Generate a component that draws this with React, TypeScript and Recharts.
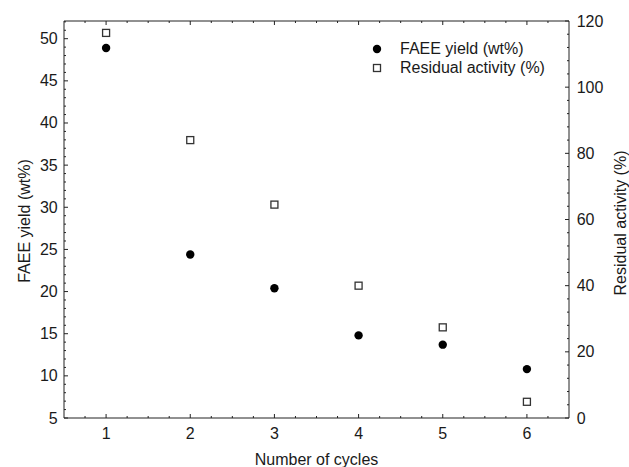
import React from 'react';
import { ScatterChart, Scatter, XAxis, YAxis, Legend } from 'recharts';

const cycles = [1, 2, 3, 4, 5, 6];
const faeeYield = [48.9, 24.4, 20.4, 14.8, 13.7, 10.8];
const residualActivity = [116.4, 84.0, 64.5, 40.0, 27.4, 4.9];

const xMajorTicks = [1, 2, 3, 4, 5, 6];
const leftMajorTicks = [5, 10, 15, 20, 25, 30, 35, 40, 45, 50];
const rightMajorTicks = [0, 20, 40, 60, 80, 100, 120];

const seriesNames = ['FAEE yield (wt%)', 'Residual activity (%)'];
const axisTitles = { x: 'Number of cycles', left: 'FAEE yield (wt%)', right: 'Residual activity (%)' };

const range = (a: number, b: number, step: number) => {
  const out: number[] = [];
  for (let v = a; v <= b + 1e-9; v += step) out.push(Math.round(v * 1000) / 1000);
  return out;
};

const xAllTicks = range(0.75, 6.25, 0.25);
const leftAllTicks = range(5, 52, 1);
const rightAllTicks = range(0, 120, 4);

const faeeData = cycles.map((c, i) => ({ x: c, y: faeeYield[i] }));
const residualData = cycles.map((c, i) => ({ x: c, y: residualActivity[i] }));

const FONT = '"Liberation Sans", Arial, sans-serif';
const AX = '#222';
const TXT = '#1a1a1a';

const BottomTick = (props: any) => {
  const { x, y, payload } = props;
  const v = payload.value;
  const major = xMajorTicks.includes(v);
  return (
    <g>
      <line x1={x} y1={y} x2={x} y2={y - (major ? 4 : 2)} stroke={AX} strokeWidth={1} />
      {major && (
        <text x={x} y={y + 21} textAnchor="middle" fontSize={16} fontFamily={FONT} fill={TXT}>
          {v}
        </text>
      )}
    </g>
  );
};

const TopTick = (props: any) => {
  const { x, y, payload } = props;
  const major = xMajorTicks.includes(payload.value);
  return <line x1={x} y1={y} x2={x} y2={y + (major ? 4 : 2)} stroke={AX} strokeWidth={1} />;
};

const LeftTick = (props: any) => {
  const { x, y, payload } = props;
  const v = payload.value;
  const major = leftMajorTicks.includes(v);
  return (
    <g>
      <line x1={x} y1={y} x2={x + (major ? 4 : 2)} y2={y} stroke={AX} strokeWidth={1} />
      {major && (
        <text x={x - 6.3} y={y + 5.5} textAnchor="end" fontSize={16} fontFamily={FONT} fill={TXT}>
          {v}
        </text>
      )}
    </g>
  );
};

const RightTick = (props: any) => {
  const { x, y, payload } = props;
  const v = payload.value;
  const major = rightMajorTicks.includes(v);
  return (
    <g>
      <line x1={x} y1={y} x2={x - (major ? 4 : 2)} y2={y} stroke={AX} strokeWidth={1} />
      {major && (
        <text x={x + 7.7} y={y + 5.5} textAnchor="start" fontSize={16} fontFamily={FONT} fill={TXT}>
          {v}
        </text>
      )}
    </g>
  );
};

const CircleShape = (props: any) => <circle cx={props.cx} cy={props.cy} r={4.2} fill="#000" />;
const SquareShape = (props: any) => (
  <rect x={props.cx - 3.5} y={props.cy - 3.5} width={7} height={7} fill="#fff" stroke="#333" strokeWidth={1.3} />
);

const LegendContent = () => (
  <div style={{ fontFamily: FONT, fontSize: 16, color: TXT }}>
    {seriesNames.map((name, i) => (
      <div key={name} style={{ display: 'flex', alignItems: 'center', height: 18.7, whiteSpace: 'nowrap' }}>
        <svg width={14} height={14} style={{ marginRight: 16 }}>
          {i === 0 ? (
            <circle cx={7} cy={7} r={4.2} fill="#000" />
          ) : (
            <rect x={3.5} y={3.5} width={7} height={7} fill="#fff" stroke="#333" strokeWidth={1.3} />
          )}
        </svg>
        <span>{name}</span>
      </div>
    ))}
  </div>
);

export default function App() {
  return (
    <div style={{ position: 'absolute', left: 0, top: 0, background: '#fff' }}>
      <ScatterChart width={629} height={467} margin={{ top: 0, right: 0, bottom: 0, left: 0 }}>
        <XAxis
          xAxisId="top"
          orientation="top"
          type="number"
          dataKey="x"
          domain={[0.5, 6.5]}
          allowDataOverflow
          ticks={xAllTicks}
          interval={0}
          height={21}
          tickSize={0}
          tickMargin={0}
          tickLine={false}
          axisLine={{ stroke: AX, strokeWidth: 1 }}
          tick={<TopTick />}
        />
        <XAxis
          type="number"
          dataKey="x"
          domain={[0.5, 6.5]}
          allowDataOverflow
          ticks={xAllTicks}
          interval={0}
          height={49}
          tickSize={0}
          tickMargin={0}
          tickLine={false}
          axisLine={{ stroke: AX, strokeWidth: 1 }}
          tick={<BottomTick />}
          label={() => (
            <text x={316.5} y={465} textAnchor="middle" fontSize={16} fontFamily={FONT} fill={TXT}>
              {axisTitles.x}
            </text>
          )}
        />
        <YAxis
          yAxisId="left"
          orientation="left"
          type="number"
          dataKey="y"
          domain={[5, 52.1]}
          allowDataOverflow
          ticks={leftAllTicks}
          interval={0}
          width={64}
          tickSize={0}
          tickMargin={0}
          tickLine={false}
          axisLine={{ stroke: AX, strokeWidth: 1 }}
          tick={<LeftTick />}
          label={() => (
            <text
              x={24}
              y={221}
              transform="rotate(-90 24 221)"
              textAnchor="middle"
              dominantBaseline="central"
              fontSize={16}
              fontFamily={FONT}
              fill={TXT}
            >
              {axisTitles.left}
            </text>
          )}
        />
        <YAxis
          yAxisId="right"
          orientation="right"
          type="number"
          dataKey="y"
          domain={[0, 120]}
          allowDataOverflow
          ticks={rightAllTicks}
          interval={0}
          width={60}
          tickSize={0}
          tickMargin={0}
          tickLine={false}
          axisLine={{ stroke: AX, strokeWidth: 1 }}
          tick={<RightTick />}
          label={() => (
            <text
              x={620}
              y={223}
              transform="rotate(-90 620 223)"
              textAnchor="middle"
              dominantBaseline="central"
              fontSize={16}
              fontFamily={FONT}
              fill={TXT}
            >
              {axisTitles.right}
            </text>
          )}
        />
        <Legend
          layout="vertical"
          align="center"
          verticalAlign="middle"
          content={<LegendContent />}
          wrapperStyle={{ position: 'absolute', left: 370, top: 40, width: 'auto' }}
        />
        <Scatter
          name={seriesNames[1]}
          data={residualData}
          yAxisId="right"
          shape={<SquareShape />}
          isAnimationActive={false}
        />
        <Scatter
          name={seriesNames[0]}
          data={faeeData}
          yAxisId="left"
          shape={<CircleShape />}
          isAnimationActive={false}
        />
      </ScatterChart>
    </div>
  );
}
